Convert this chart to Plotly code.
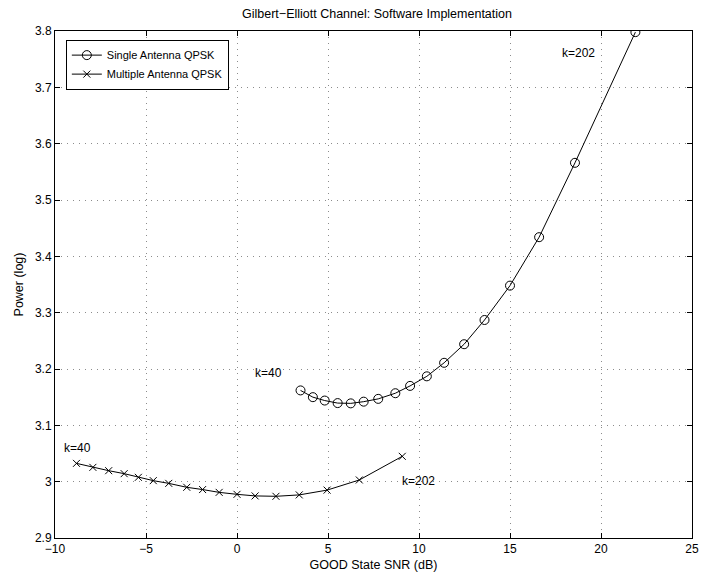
import plotly.graph_objects as go

# Data
single_x = [3.49, 4.17, 4.82, 5.53, 6.25, 6.96, 7.76, 8.70, 9.51, 10.43, 11.38, 12.48, 13.60, 15.00, 16.60, 18.57, 21.89]
single_y = [3.162, 3.150, 3.144, 3.1395, 3.139, 3.142, 3.147, 3.157, 3.170, 3.187, 3.211, 3.244, 3.287, 3.348, 3.434, 3.566, 3.798]

multi_x = [-8.82, -7.92, -7.05, -6.20, -5.42, -4.60, -3.75, -2.76, -1.89, -0.98, 0.0, 0.995, 2.14, 3.42, 4.95, 6.72, 9.08]
multi_y = [3.0325, 3.0254, 3.0195, 3.0142, 3.0077, 3.0018, 2.997, 2.990, 2.986, 2.981, 2.9775, 2.9747, 2.974, 2.9765, 2.985, 3.003, 3.045]

labels_text = ["k=40", "k=202", "k=40", "k=202"]
labels_x = [0.9, 17.72, -9.64, 8.98]
labels_y = [3.193, 3.761, 3.06, 3.002]

x_ticks = [-10, -5, 0, 5, 10, 15, 20, 25]
y_ticks = [2.9, 3.0, 3.1, 3.2, 3.3, 3.4, 3.5, 3.6, 3.7, 3.8]
y_ticktext = ["2.9", "3", "3.1", "3.2", "3.3", "3.4", "3.5", "3.6", "3.7", "3.8"]

FONT = "Liberation Sans, Arial, Helvetica, sans-serif"

fig = go.Figure()
fig.add_trace(go.Scatter(
    x=single_x, y=single_y, mode="lines+markers", name="Single Antenna QPSK",
    line=dict(color="black", width=1),
    marker=dict(symbol="circle-open", size=9, color="black", line=dict(width=1, color="black")),
))
fig.add_trace(go.Scatter(
    x=multi_x, y=multi_y, mode="lines+markers", name="Multiple Antenna QPSK",
    line=dict(color="black", width=1),
    marker=dict(symbol="x-thin-open", size=7, color="black", line=dict(width=1, color="black")),
))

for t, xx, yy in zip(labels_text, labels_x, labels_y):
    fig.add_annotation(x=xx, y=yy, xref="x", yref="y", text=t, showarrow=False,
                       xanchor="left", yanchor="middle",
                       font=dict(family=FONT, size=12, color="black"))

axis_common = dict(
    showline=True, linecolor="black", linewidth=1, mirror="ticks",
    ticks="inside", ticklen=5, tickcolor="black", tickwidth=1,
    showgrid=True, gridcolor="#8c8c8c", gridwidth=1, griddash="1px,5px",
    zeroline=False, tickfont=dict(family=FONT, size=12, color="black"),
)

fig.update_xaxes(range=[-10, 25], tickvals=x_ticks,
                 title=dict(text="GOOD State SNR (dB)", font=dict(family=FONT, size=12.5, color="black"), standoff=4),
                 **axis_common)
fig.update_yaxes(range=[2.9, 3.8], tickvals=y_ticks, ticktext=y_ticktext,
                 title=dict(text="Power (log)", font=dict(family=FONT, size=12.5, color="black"), standoff=8),
                 **axis_common)

fig.update_layout(
    width=709, height=579,
    margin=dict(l=55, r=10, t=31, b=41),
    paper_bgcolor="white", plot_bgcolor="white",
    font=dict(family=FONT, size=12, color="black"),
    title=dict(text="Gilbert\u2212Elliott Channel: Software Implementation",
               x=(55 + 699) / 2 / 709, xanchor="center", y=1 - 14 / 579, yanchor="middle",
               font=dict(family=FONT, size=12.5, color="black")),
    legend=dict(x=0.017, y=0.983, xanchor="left", yanchor="top",
                bgcolor="white", bordercolor="black", borderwidth=1,
                font=dict(family=FONT, size=11, color="black"),
                tracegroupgap=0, itemwidth=30),
    showlegend=True,
)

fig.write_html("out.html")
